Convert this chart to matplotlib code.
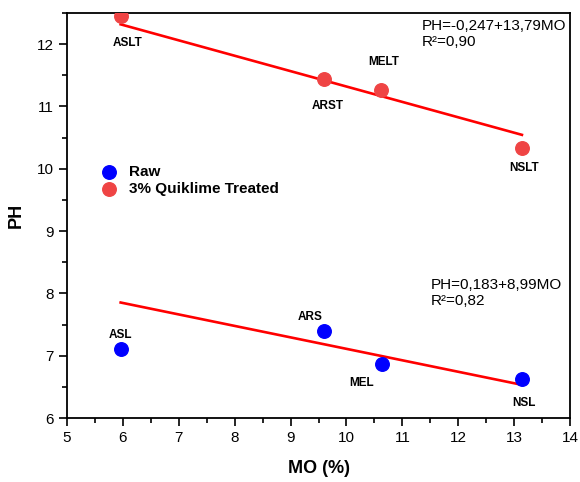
import matplotlib.pyplot as plt
from matplotlib.ticker import MultipleLocator

plt.rcParams['font.family'] = ['Liberation Sans', 'DejaVu Sans']

# data
raw_names = ['ASL', 'ARS', 'MEL', 'NSL']
raw_mo = [5.96, 9.60, 10.63, 13.14]
raw_ph = [7.10, 7.40, 6.86, 6.63]

treated_names = ['ASLT', 'ARST', 'MELT', 'NSLT']
treated_mo = [5.96, 9.60, 10.62, 13.14]
treated_ph = [12.45, 11.44, 11.26, 10.33]

# fitted lines (slope, intercept) as drawn
raw_fit = (-0.184, 8.95)
treated_fit = (-0.247, 13.79)

# label offsets in pixels (dx, dy)
raw_offsets = [(0, 14), (-14, 14), (-20, -19), (2, -24)]
treated_offsets = [(7, -27), (4, -27), (3, 28), (2, -20)]

fig = plt.figure(figsize=(5.8, 4.82), dpi=100)
ax = fig.add_axes([67 / 580, 1 - 418 / 482, 503 / 580, 405 / 482])

blue = '#0000ff'
red_pt = '#ef4444'

ax.scatter(raw_mo, raw_ph, s=95, color=blue, zorder=3, label='Raw')
ax.scatter(treated_mo, treated_ph, s=95, color=red_pt, zorder=3,
           label='3% Quiklime Treated')

for mo, fit in [(raw_mo, raw_fit), (treated_mo, treated_fit)]:
    x0, x1 = min(mo), max(mo)
    ax.plot([x0, x1], [fit[1] + fit[0] * x0, fit[1] + fit[0] * x1],
            color='#ff0000', lw=1.9, zorder=2)

for names, mo, ph, offs in [(raw_names, raw_mo, raw_ph, raw_offsets),
                            (treated_names, treated_mo, treated_ph, treated_offsets)]:
    for n, x, y, (dx, dy) in zip(names, mo, ph, offs):
        ax.annotate(n, (x, y), xytext=(dx, dy), textcoords='offset pixels',
                    ha='center', va='center', fontsize=8.5, fontweight='bold')

ax.text(0.705, 0.985, 'PH=-0,247+13,79MO\nR\u00b2=0,90', transform=ax.transAxes,
        ha='left', va='top', fontsize=11, linespacing=1.2)
ax.text(0.724, 0.345, 'PH=0,183+8,99MO\nR\u00b2=0,82', transform=ax.transAxes,
        ha='left', va='top', fontsize=11, linespacing=1.2)

ax.set_xlim(5, 14)
ax.set_ylim(6, 12.5)
ax.xaxis.set_major_locator(MultipleLocator(1))
ax.xaxis.set_minor_locator(MultipleLocator(0.5))
ax.yaxis.set_major_locator(MultipleLocator(1))
ax.yaxis.set_minor_locator(MultipleLocator(0.5))
ax.tick_params(which='major', direction='out', length=6, width=1.2, labelsize=11)
ax.tick_params(which='minor', direction='out', length=3.5, width=1.2)
for sp in ax.spines.values():
    sp.set_linewidth(1.3)

ax.set_xlabel('MO (%)', fontsize=13, fontweight='bold', labelpad=11)
ax.set_ylabel('PH', fontsize=13, fontweight='bold', labelpad=9)

ax.legend(loc='upper left', bbox_to_anchor=(0.04, 0.64), frameon=False,
          prop={'weight': 'bold', 'size': 11}, handletextpad=0.35,
          labelspacing=0.2, borderaxespad=0)

fig.savefig('out.png', dpi=100)
